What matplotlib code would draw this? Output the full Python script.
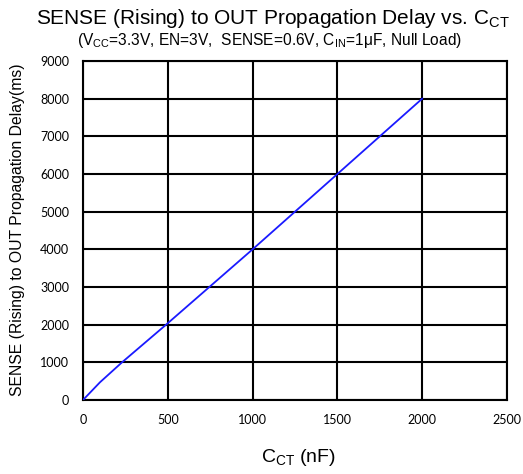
import matplotlib
matplotlib.use("Agg")
import matplotlib.pyplot as plt

cct_nf = [0, 100, 230, 490, 1000, 1500, 2000]
delay_ms = [0, 470, 1000, 2000, 4000, 6000, 8000]
x_ticks = [0, 500, 1000, 1500, 2000, 2500]
y_ticks = [0, 1000, 2000, 3000, 4000, 5000, 6000, 7000, 8000, 9000]

plt.rcParams['font.family'] = ['Liberation Sans', 'DejaVu Sans']

fig = plt.figure(figsize=(5.23, 4.74), dpi=100)
W, H = 523, 474
ax = fig.add_axes([83 / W, 1 - 400 / H, (507 - 83) / W, (400 - 61) / H])

ax.plot(cct_nf, delay_ms, color='#1a1aff', lw=1.3, zorder=3)
ax.set_xlim(0, 2500)
ax.set_ylim(0, 9000)
ax.set_xticks(x_ticks)
ax.set_yticks(y_ticks)
ax.grid(True, color='black', lw=1.5)
for s in ax.spines.values():
    s.set_linewidth(1.5)
ax.tick_params(length=0, labelsize=9, pad=10)
ax.tick_params(axis='y', pad=10)
for lab in ax.get_xticklabels() + ax.get_yticklabels():
    lab.set_family(['Lato', 'DejaVu Sans'])

fig.text(273 / W, 1 - 18 / H, r'SENSE (Rising) to OUT Propagation Delay vs. C$_{\mathregular{CT}}$',
         ha='center', va='center', fontsize=15)
fig.text(270 / W, 1 - 40 / H,
         r'(V$_{\mathregular{CC}}$=3.3V, EN=3V,  SENSE=0.6V, C$_{\mathregular{IN}}$=1μF, Null Load)',
         ha='center', va='center', fontsize=11.2)
fig.text(298 / W, 1 - 458 / H, r'C$_{\mathregular{CT}}$ (nF)', ha='center', va='center', fontsize=14)
fig.text(18 / W, 1 - 230 / H, 'SENSE (Rising) to OUT Propagation Delay(ms)', rotation=90,
         ha='center', va='center', fontsize=11.3)

fig.savefig('out.png', dpi=100)
